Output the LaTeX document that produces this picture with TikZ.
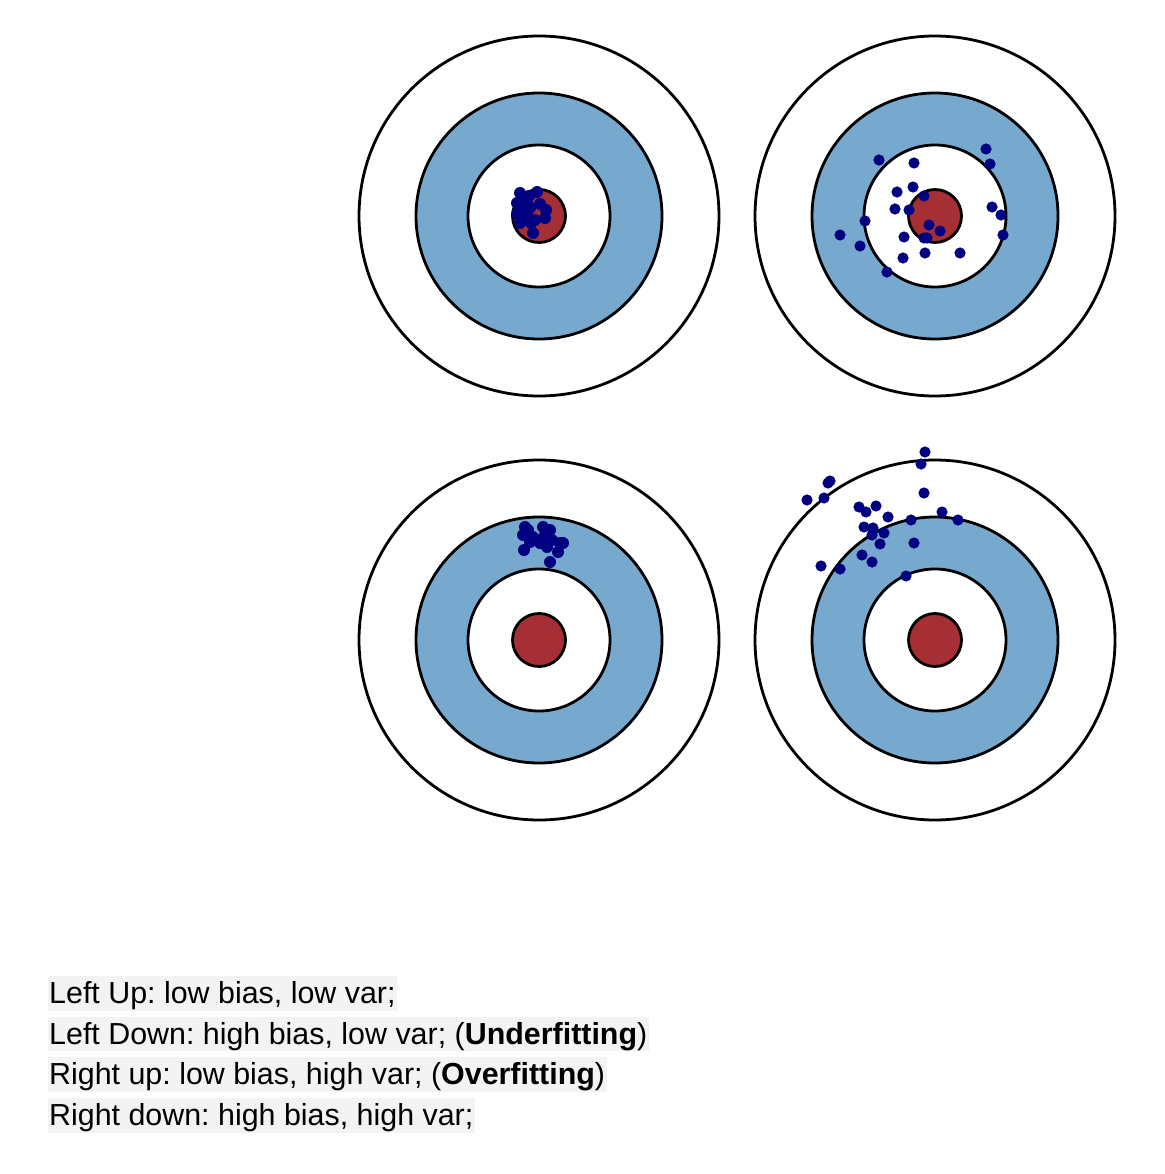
\documentclass[tikz,border=0pt]{standalone}
\usepackage{fontspec}
\setmainfont{Liberation Sans}
\definecolor{ringblue}{RGB}{119,169,206}
\definecolor{bullred}{RGB}{166,47,54}
\definecolor{dotnavy}{RGB}{0,0,128}
\definecolor{hilite}{RGB}{243,243,243}
\begin{document}
\frenchspacing
\begin{tikzpicture}[x=1pt,y=-1pt,
  ringline/.style={draw=black,line width=2.8pt},
  dot/.style={fill=dotnavy},
  caption/.style={anchor=base west,fill=hilite,inner xsep=1.5pt,inner ysep=0pt,
    text height=27.3pt,text depth=7.4pt,font=\fontsize{30.4}{40}\selectfont}]
\useasboundingbox (0,0) rectangle (1164,1174);
\fill[white] (0,0) rectangle (1164,1174);
% targets
\foreach \name/\cx/\cy in {tl/539/216,tr/935/216,bl/539/640,br/935/640}{
  \coordinate (\name) at (\cx,\cy);
  \filldraw[ringline,fill=white] (\name) circle[radius=180];
  \filldraw[ringline,fill=ringblue] (\name) circle[radius=123];
  \filldraw[ringline,fill=white] (\name) circle[radius=71];
  \filldraw[ringline,fill=bullred] (\name) circle[radius=26.5];
}
% top-left: low bias, low var
\foreach \x/\y in {520/193,537/192,517/203,527/202,540/204,546/210,517/214,527/212,
  545/218,520/223,531/223,533/233,523/208,535/220,529/196,522/218,530/208}{
  \fill[dot] (\x,\y) circle[radius=6];
}
% top-right: low bias, high var
\foreach \x/\y in {879/160,914/163,986/149,990/164,897/192,913/187,924/196,895/209,
  909/210,992/207,1001/215,865/221,840/235,929/225,940/231,904/237,924/238,927/238,
  1003/235,860/246,903/258,925/253,960/253,887/272}{
  \fill[dot] (\x,\y) circle[radius=5.6];
}
% bottom-left: high bias, low var
\foreach \x/\y in {525/527,523/535,543/527,550/530,530/542,524/550,540/543,547/547,
  560/543,563/543,558/552,550/562,533/537,537/540,552/540,545/535,528/530}{
  \fill[dot] (\x,\y) circle[radius=6];
}
% bottom-right: high bias, high var
\foreach \x/\y in {925/452,921/464,830/481,828/483,807/500,824/498,924/493,859/507,
  866/512,876/506,888/517,942/512,911/520,958/520,864/527,873/528,872/535,884/533,
  880/544,914/543,862/555,872/562,821/566,840/569,906/576}{
  \fill[dot] (\x,\y) circle[radius=5.6];
}
% captions
\node[caption] (c1) at (47.5,1003.3) {Left Up: low bias, low var;};
\node[caption] (c2) at (47.5,1044) {Left Down: high bias, low var; (\textbf{Underfitting})};
\node[caption] (c3) at (47.5,1084.7) {Right up: low bias, high var; (\textbf{Overfitting})};
\node[caption] (c4) at (47.5,1125.4) {Right down: high bias, high var;};
\end{tikzpicture}
\end{document}
